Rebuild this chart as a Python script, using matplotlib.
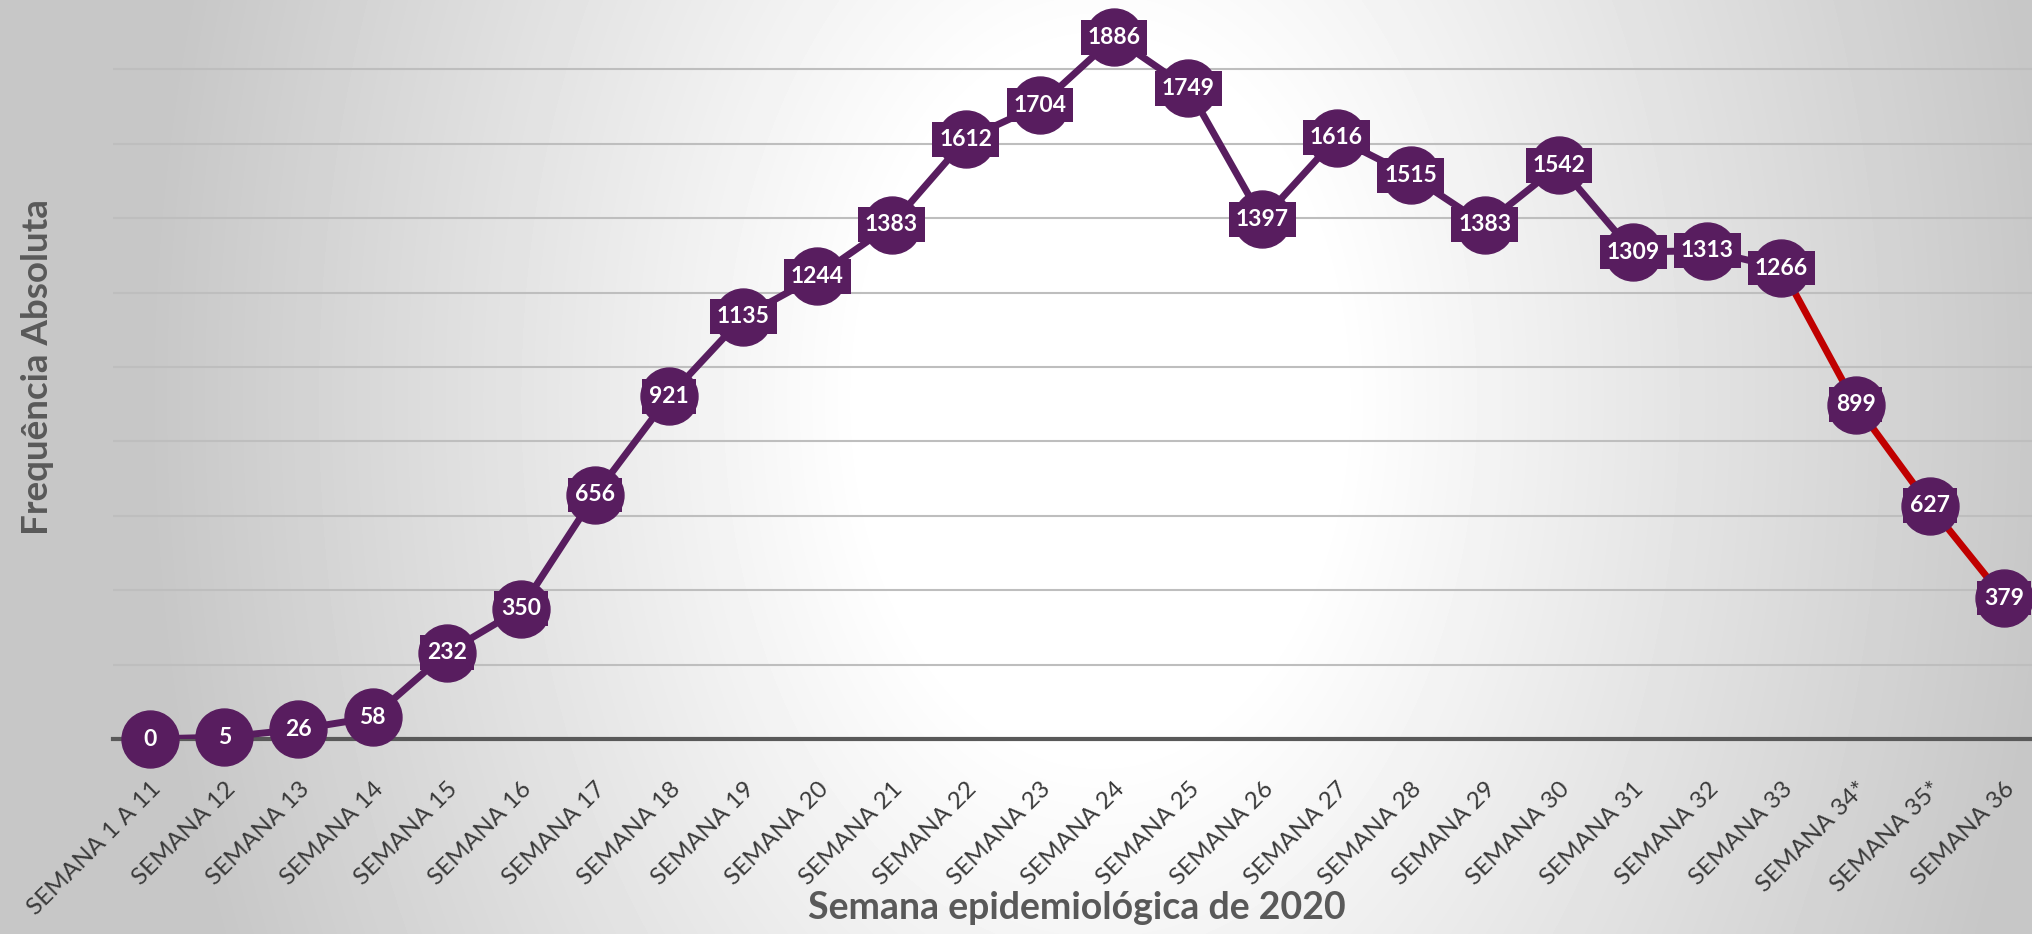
import numpy as np
import matplotlib
matplotlib.use("Agg")
import matplotlib.pyplot as plt

plt.rcParams['font.family'] = ['Lato', 'DejaVu Sans']

semanas = ["SEMANA 1 A 11", "SEMANA 12", "SEMANA 13", "SEMANA 14", "SEMANA 15",
           "SEMANA 16", "SEMANA 17", "SEMANA 18", "SEMANA 19", "SEMANA 20",
           "SEMANA 21", "SEMANA 22", "SEMANA 23", "SEMANA 24", "SEMANA 25",
           "SEMANA 26", "SEMANA 27", "SEMANA 28", "SEMANA 29", "SEMANA 30",
           "SEMANA 31", "SEMANA 32", "SEMANA 33", "SEMANA 34*", "SEMANA 35*",
           "SEMANA 36"]
casos = [0, 5, 26, 58, 232, 350, 656, 921, 1135, 1244, 1383, 1612, 1704, 1886,
         1749, 1397, 1616, 1515, 1383, 1542, 1309, 1313, 1266, 899, 627, 379]
inicio_vermelho = 22  # last segments (SEMANA 33 -> 36) in red

roxo = "#581D5F"
vermelho = "#C00000"

W, H = 2033, 934
fig = plt.figure(figsize=(W / 100, H / 100), dpi=100)

# radial gradient background
bg = fig.add_axes([0, 0, 1, 1], zorder=-10)
yy, xx = np.mgrid[0:H, 0:W]
d = np.sqrt(((xx - 1100) / 950.0) ** 2 + ((yy - 400) / 1400.0) ** 2)
v = 1 - 0.22 * np.clip((d - 0.25) / 0.75, 0, 1)
bg.imshow(v, cmap="gray", vmin=0, vmax=1, aspect="auto", extent=[0, 1, 0, 1])
bg.axis("off")

ax = fig.add_axes([113 / W, 1 - 739 / H, 1928 / W, 744 / H])
ax.patch.set_alpha(0)
x = np.arange(len(casos))

ax.plot(x[:inicio_vermelho + 1], casos[:inicio_vermelho + 1], color=roxo, lw=5, zorder=3,
        solid_capstyle="round")
ax.plot(x[inicio_vermelho:], casos[inicio_vermelho:], color=vermelho, lw=5, zorder=3,
        solid_capstyle="round")
ax.plot(x, casos, "o", color=roxo, markersize=41, zorder=4, clip_on=False)

for xi, c in zip(x, casos):
    ax.text(xi, c, str(c), ha="center", va="center", color="white", fontsize=16.5,
            fontweight="bold", zorder=5,
            bbox=dict(boxstyle="square,pad=0.3", fc=roxo, ec="none"))

ax.set_xlim(-0.5, len(casos) - 0.5)
ax.set_ylim(0, 2000)
ax.set_yticks(range(200, 2001, 200))
ax.yaxis.grid(True, color="#BEBEBE", lw=1.5)
ax.set_axisbelow(True)
ax.tick_params(axis="y", left=False, labelleft=False)
for s in ["top", "right", "left"]:
    ax.spines[s].set_visible(False)
ax.spines["bottom"].set_color("#595959")
ax.spines["bottom"].set_linewidth(3)
ax.spines["bottom"].set_zorder(2.5)

ax.set_xticks(x)
ax.set_xticklabels(semanas, rotation=45, ha="right", va="top", rotation_mode="anchor",
                   fontsize=17.5, color="#3A3A3A")
ax.tick_params(axis="x", length=0, pad=28)

fig.text(38 / W, 1 - 367 / H, "Frequência Absoluta", rotation=90, ha="center", va="center",
         fontsize=26.5, fontweight="bold", color="#595959")
fig.text(1077 / W, 1 - 908 / H, "Semana epidemiológica de 2020", ha="center", va="center",
         fontsize=27, fontweight="bold", color="#595959")

fig.savefig("out.png", dpi=100)
